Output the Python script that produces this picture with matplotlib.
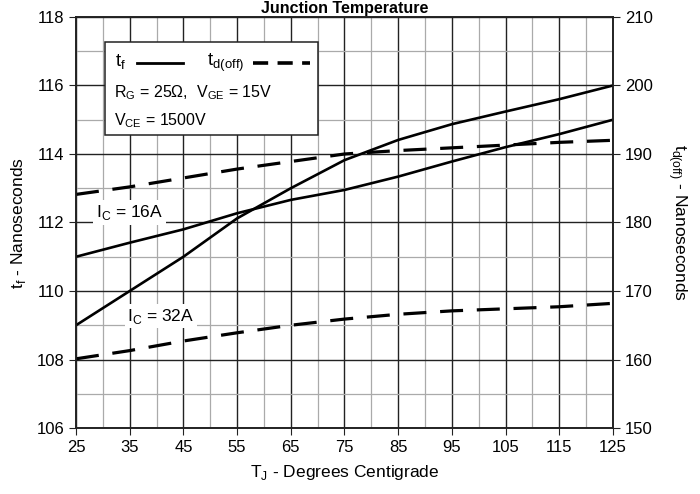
import matplotlib.pyplot as plt
from matplotlib.patches import Rectangle
from matplotlib.lines import Line2D
import numpy as np

plt.rcParams['font.family'] = ['Liberation Sans', 'DejaVu Sans']

# data
temp = [25, 35, 45, 55, 65, 75, 85, 95, 105, 115, 125]
tf_16a = [111.0, 111.41, 111.8, 112.27, 112.66, 112.95, 113.34, 113.78, 114.2, 114.58, 115.0]
tf_32a = [109.0, 110.0, 111.0, 112.12, 113.0, 113.82, 114.41, 114.87, 115.24, 115.6, 116.0]
td_16a = [184.1, 185.2, 186.5, 187.8, 188.9, 190.0, 190.5, 190.9, 191.3, 191.7, 192.0]
td_32a = [160.1, 161.3, 162.7, 163.9, 165.0, 165.9, 166.6, 167.1, 167.4, 167.7, 168.2]

x_ticks = np.arange(25, 126, 10)
tf_ticks = np.arange(106, 119, 2)
td_ticks = np.arange(150, 211, 10)

fig = plt.figure(figsize=(7, 4.94), dpi=100)
ax = fig.add_axes([0.1086, 0.1336, 0.767, 0.832])
ax2 = ax.twinx()

ax.set_xlim(25, 125)
ax.set_ylim(106, 118)
ax2.set_ylim(150, 210)

# grid
ax.set_xticks(x_ticks)
ax.set_xticks(np.arange(30, 125, 10), minor=True)
ax.set_yticks(tf_ticks)
ax.set_yticks(np.arange(107, 118, 2), minor=True)
ax.grid(True, which='major', color='#222222', lw=1.0)
ax.grid(True, which='minor', color='#aaaaaa', lw=0.9)
ax.set_axisbelow(True)
ax.tick_params(which='minor', length=0)
ax.tick_params(which='major', direction='out', length=5, labelsize=12, color='#222222')
ax2.set_yticks(td_ticks)
ax2.tick_params(direction='out', length=5, labelsize=12, color='#222222')
for a in (ax, ax2):
    for s in a.spines.values():
        s.set_color('#222222')
        s.set_linewidth(1.2)

# curves
ax.plot(temp, tf_16a, color='black', lw=1.9, zorder=3)
ax.plot(temp, tf_32a, color='black', lw=1.9, zorder=3)
dash = (0, (7.2, 4.3))
ax2.plot(temp, td_16a, color='black', lw=2.3, ls=dash)
ax2.plot(temp, td_32a, color='black', lw=2.3, ls=dash)

ax.set_xlabel('T$_\\mathregular{J}$ - Degrees Centigrade', fontsize=12.5, labelpad=6)
ax.set_ylabel('t$_\\mathregular{ f}$ - Nanoseconds', fontsize=12.5, labelpad=6)
ax2.set_ylabel('t$_\\mathregular{d(off)}$ - Nanoseconds', fontsize=12.5, rotation=270, labelpad=26)

# labels on curves
bb = dict(facecolor='white', edgecolor='none', pad=2)
ax.text(35.0, 112.3, 'I$_\\mathregular{C}$ = 16A', fontsize=12.5, ha='center', va='center', bbox=bb, zorder=4)
ax.text(40.8, 109.27, 'I$_\\mathregular{C}$ = 32A', fontsize=12.5, ha='center', va='center', bbox=bb, zorder=4)

# legend box
ax2.add_patch(Rectangle((0.054, 0.713), 0.396, 0.226, transform=ax2.transAxes,
                        facecolor='white', edgecolor='#222222', lw=1.1, zorder=5))
ax2.text(0.072, 0.889, 't$_\\mathregular{ f}$', transform=ax2.transAxes, fontsize=13.5,
         va='center', zorder=6)
ax2.add_line(Line2D([0.114, 0.2], [0.887, 0.887], transform=ax2.transAxes,
                    color='black', lw=2.0, zorder=6))
ax2.text(0.244, 0.889, 't$_\\mathregular{d(off)}$', transform=ax2.transAxes, fontsize=13.5,
         va='center', zorder=6)
ax2.add_line(Line2D([0.33, 0.436], [0.887, 0.887], transform=ax2.transAxes,
                    color='black', lw=2.6, ls=(0, (4.2, 2.6)), zorder=6))
ax2.text(0.07, 0.817, 'R$_\\mathregular{G}$ = 25\u03a9,  V$_\\mathregular{GE}$ = 15V',
         transform=ax2.transAxes, fontsize=11.5, va='center', zorder=6)
ax2.text(0.07, 0.749, 'V$_\\mathregular{CE}$ = 1500V',
         transform=ax2.transAxes, fontsize=11.5, va='center', zorder=6)

fig.text(0.493, 1 - 12.5 / 494, 'Junction Temperature', fontsize=11.5, fontweight='bold',
         ha='center', va='baseline')

fig.savefig('out.png', dpi=100)
